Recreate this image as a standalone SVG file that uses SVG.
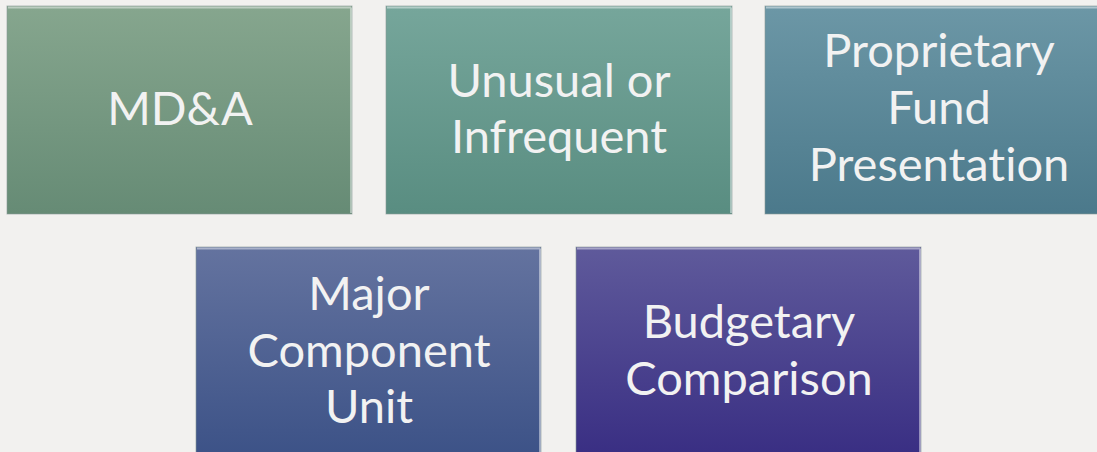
<svg xmlns="http://www.w3.org/2000/svg" width="1097" height="452" viewBox="0 0 1097 452">
<defs>
<linearGradient id="g1" x1="0" y1="0" x2="0" y2="1"><stop offset="0" stop-color="#86a68e"/><stop offset="1" stop-color="#668b75"/></linearGradient>
<linearGradient id="g2" x1="0" y1="0" x2="0" y2="1"><stop offset="0" stop-color="#76a69b"/><stop offset="1" stop-color="#598d81"/></linearGradient>
<linearGradient id="g3" x1="0" y1="0" x2="0" y2="1"><stop offset="0" stop-color="#6c97a6"/><stop offset="1" stop-color="#4b798b"/></linearGradient>
<linearGradient id="g4" x1="0" y1="0" x2="0" y2="1"><stop offset="0" stop-color="#64739f"/><stop offset="1" stop-color="#3c5287"/></linearGradient>
<linearGradient id="g5" x1="0" y1="0" x2="0" y2="1"><stop offset="0" stop-color="#5f5a9b"/><stop offset="1" stop-color="#392e83"/></linearGradient>
</defs>
<style>
.box{stroke:#8a9a98;stroke-width:1;stroke-opacity:0.6}
.hl{stroke:#ffffff;stroke-opacity:0.45;stroke-width:2;fill:none}
.lbl{font-family:Lato,"Open Sans",sans-serif;font-size:47px;fill:#f2f2f2;text-anchor:middle;font-variant-ligatures:none;font-feature-settings:"liga" 0}
</style>
<rect width="1097" height="452" fill="#f2f1ef"/>
<g id="connectors"/>
<g id="n1">
<rect class="box" x="7" y="6" width="345" height="208" fill="url(#g1)"/>
<path class="hl" d="M8 7.5H351M351 7.5V213"/>
<text class="lbl" x="180" y="125">MD&amp;A</text>
</g>
<g id="n2">
<rect class="box" x="386" y="6" width="346" height="208" fill="url(#g2)"/>
<path class="hl" d="M387 7.5H731M731 7.5V213"/>
<text class="lbl" x="559" y="97">Unusual or</text>
<text class="lbl" x="559" y="153">Infrequent</text>
</g>
<g id="n3">
<rect class="box" x="765" y="6" width="346" height="208" fill="url(#g3)"/>
<path class="hl" d="M766 7.5H1111"/>
<text class="lbl" x="939" y="67">Proprietary</text>
<text class="lbl" x="939" y="124">Fund</text>
<text class="lbl" x="939" y="181">Presentation</text>
</g>
<g id="n4">
<rect class="box" x="196" y="247" width="345" height="210" fill="url(#g4)"/>
<path class="hl" d="M197 248.5H540M540 248.5V457"/>
<text class="lbl" x="369" y="310">Major</text>
<text class="lbl" x="369" y="367">Component</text>
<text class="lbl" x="369" y="423">Unit</text>
</g>
<g id="n5">
<rect class="box" x="576" y="247" width="345" height="210" fill="url(#g5)"/>
<path class="hl" d="M577 248.5H920M920 248.5V457"/>
<text class="lbl" x="749" y="338">Budgetary</text>
<text class="lbl" x="749" y="395">Comparison</text>
</g>
</svg>
